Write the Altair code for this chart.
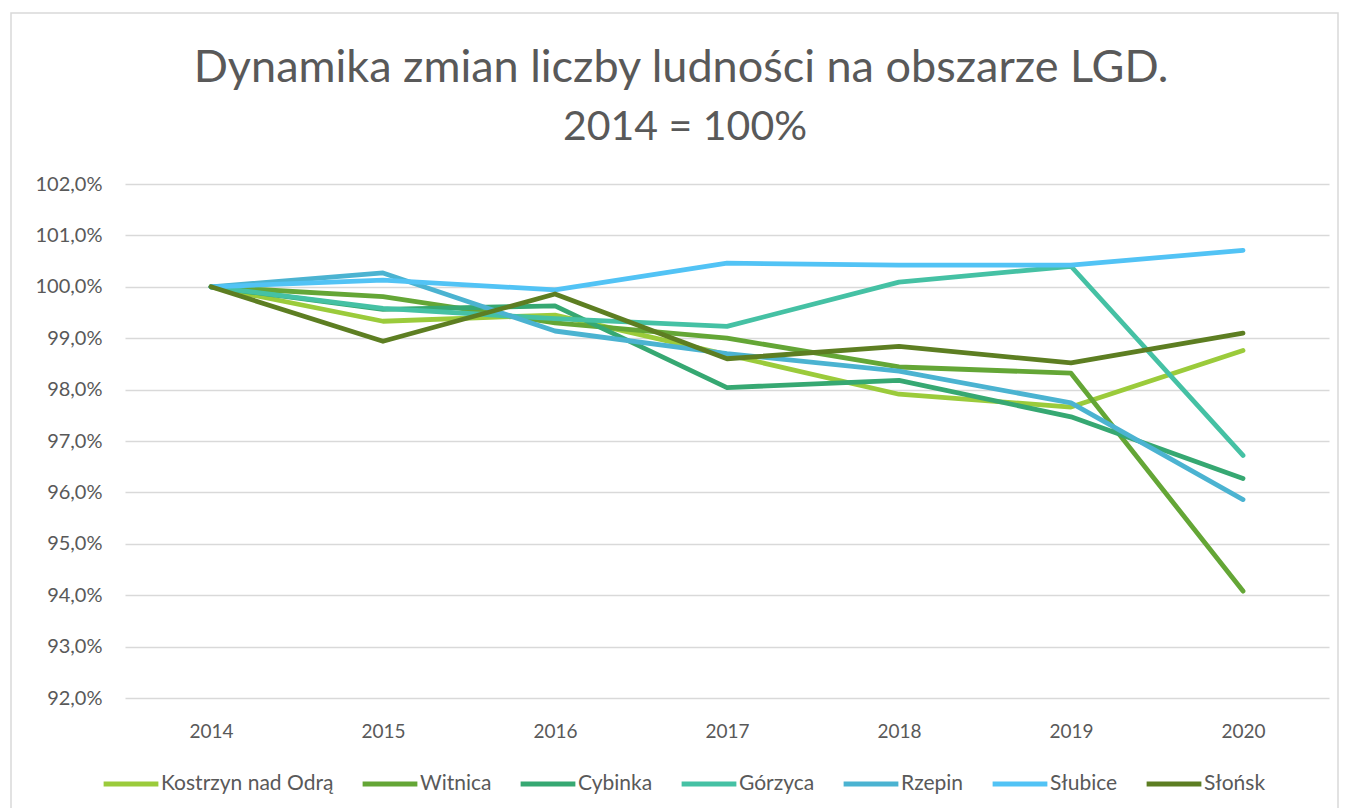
import altair as alt
import pandas as pd

years = ["2014", "2015", "2016", "2017", "2018", "2019", "2020"]
series_names = ["Kostrzyn nad Odrą", "Witnica", "Cybinka", "Górzyca", "Rzepin", "Słubice", "Słońsk"]
kostrzyn = [100.0, 99.33, 99.45, 98.68, 97.91, 97.66, 98.76]
witnica = [100.0, 99.81, 99.30, 99.00, 98.44, 98.32, 94.08]
cybinka = [100.0, 99.56, 99.63, 98.04, 98.18, 97.47, 96.27]
gorzyca = [100.0, 99.58, 99.38, 99.23, 100.09, 100.40, 96.72]
rzepin = [100.0, 100.27, 99.14, 98.70, 98.36, 97.74, 95.86]
slubice = [100.0, 100.13, 99.94, 100.46, 100.42, 100.42, 100.71]
slonsk = [100.0, 98.94, 99.86, 98.60, 98.84, 98.52, 99.10]
colors = ["#9BCB3B", "#64A636", "#36A872", "#45C1A4", "#4BB3D1", "#52C3F5", "#5D7E22"]
y_ticks = [92, 93, 94, 95, 96, 97, 98, 99, 100, 101, 102]
title_lines = ["Dynamika zmian liczby ludności na obszarze LGD.", "2014 = 100%"]

all_values = [kostrzyn, witnica, cybinka, gorzyca, rzepin, slubice, slonsk]
rows = []
for i, (name, vals) in enumerate(zip(series_names, all_values)):
    for yr, v in zip(years, vals):
        rows.append({"rok": yr, "seria": name, "wartosc": v, "kolejnosc": i})
df = pd.DataFrame(rows)

FONT = "Lato"
GREY = "#595959"

one = pd.DataFrame({"a": [0]})

frame = alt.Chart(one).mark_rect(
    fillOpacity=0, stroke="#D9D9D9", strokeWidth=1.5
).encode(
    x=alt.value(-114), x2=alt.value(1213), y=alt.value(-171), y2=alt.value(650)
)

title1 = alt.Chart(one).mark_text(
    text=title_lines[0], font=FONT, fontSize=45, color=GREY, align="center", baseline="alphabetic"
).encode(x=alt.value(556), y=alt.value(-102))

title2 = alt.Chart(one).mark_text(
    text=title_lines[1], font=FONT, fontSize=41, color=GREY, align="center", baseline="alphabetic"
).encode(x=alt.value(560), y=alt.value(-44))

lines = alt.Chart(df).mark_line(strokeWidth=4.8, strokeCap="round", strokeJoin="round").encode(
    x=alt.X("rok:O", sort=years,
            scale=alt.Scale(type="point", padding=0.5),
            axis=alt.Axis(title=None, labelAngle=0, domain=False, ticks=False,
                          labelPadding=24, labelFontSize=19, labelColor=GREY, labelFont=FONT)),
    y=alt.Y("wartosc:Q",
            scale=alt.Scale(domain=[92, 102], nice=False, zero=False),
            axis=alt.Axis(title=None, values=y_ticks, domain=False, ticks=False,
                          labelExpr="replace(format(datum.value, '.1f'), '.', ',') + '%'",
                          labelPadding=23, labelFontSize=20, labelColor=GREY, labelFont=FONT,
                          grid=True, gridColor="#D9D9D9", gridWidth=1.5)),
    color=alt.Color("seria:N", sort=series_names,
                    scale=alt.Scale(domain=series_names, range=colors),
                    legend=alt.Legend(title=None, orient="none", direction="horizontal",
                                      legendX=-24, legendY=570,
                                      symbolType="stroke", symbolSize=3000, symbolStrokeWidth=5,
                                      labelFontSize=21, labelColor=GREY, labelFont=FONT,
                                      labelLimit=400,
                                      labelOffset=0, columnPadding=18, symbolOffset=0)),
    order=alt.Order("kolejnosc:Q"),
    detail="seria:N"
)

chart = alt.layer(frame, title1, title2, lines).properties(
    width=1204, height=514,
    autosize=alt.AutoSizeParams(type="none"),
    padding={"left": 117, "top": 176, "right": 10, "bottom": 110},
).configure_view(stroke=None)

chart.save("out.html", embed_options={"renderer": "svg", "actions": False})
